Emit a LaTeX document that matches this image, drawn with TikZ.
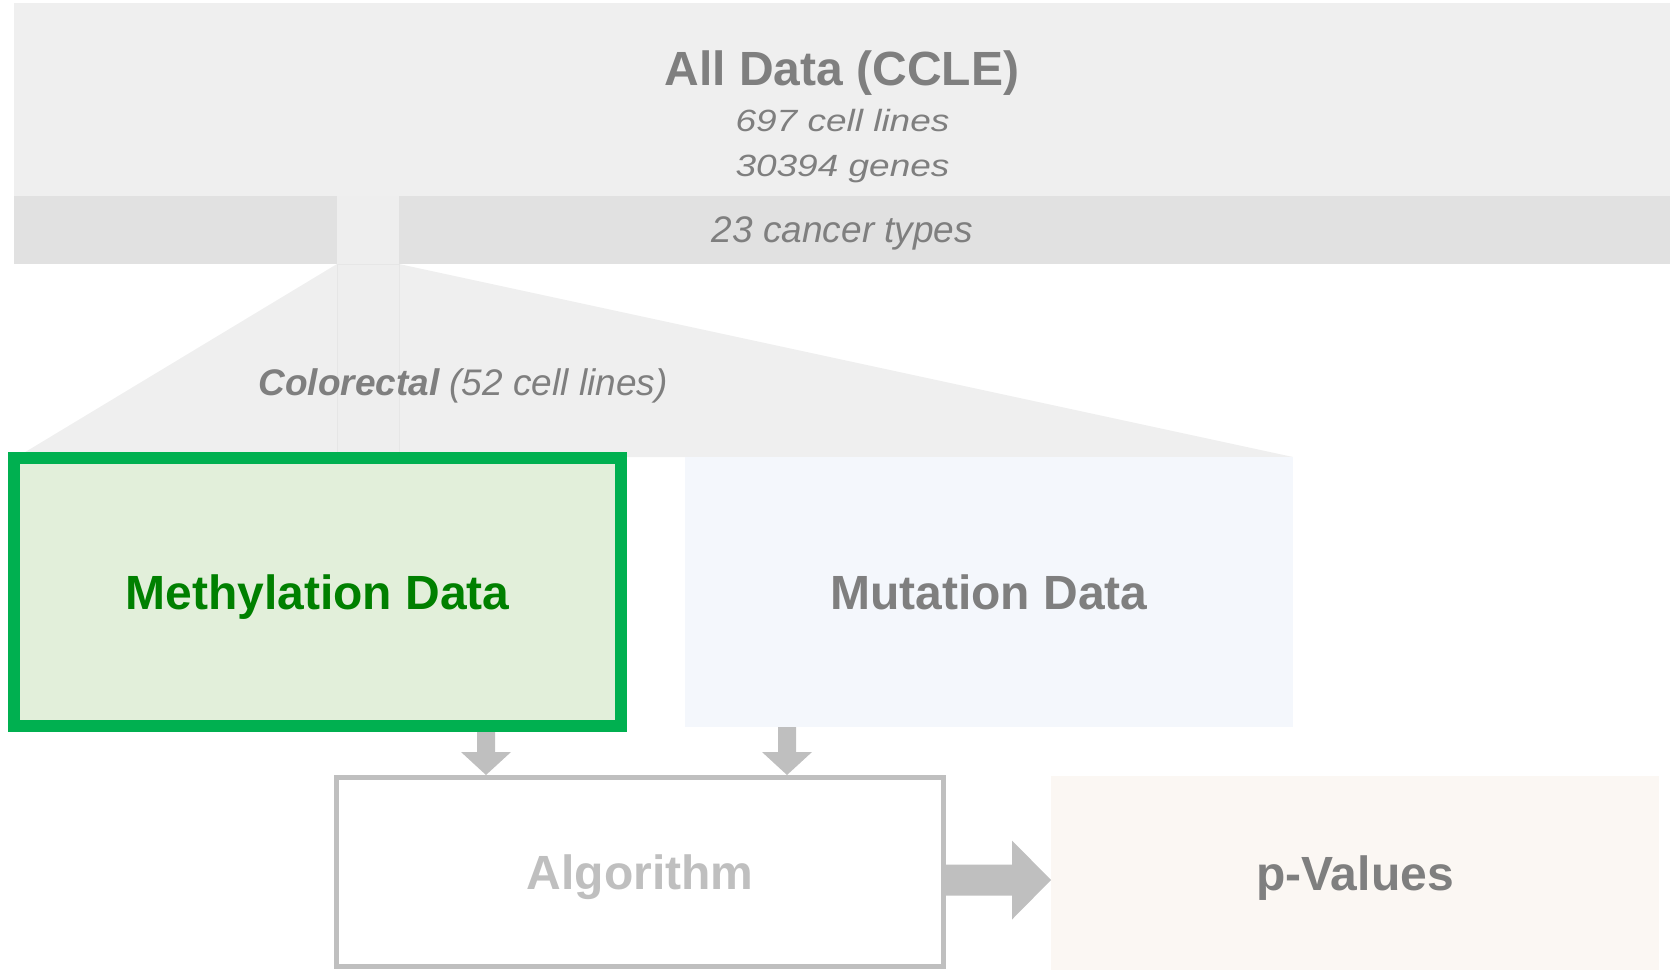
\documentclass[tikz,border=0pt]{standalone}
\usepackage{fontspec}
\setmainfont{Liberation Sans}
\usetikzlibrary{calc}
\definecolor{txtgray}{HTML}{7F7F7F}
\definecolor{topgray}{HTML}{EFEFEF}
\definecolor{bandgray}{HTML}{E1E1E1}
\definecolor{gapgray}{HTML}{EEEEEE}
\definecolor{stripline}{HTML}{E6E6E6}
\definecolor{arrgray}{HTML}{BFBFBF}
\definecolor{methgreen}{HTML}{00B050}
\definecolor{methfill}{HTML}{E2EFDA}
\definecolor{methtext}{HTML}{008000}
\definecolor{mutfill}{HTML}{F4F7FC}
\definecolor{pfill}{HTML}{FBF7F3}
\begin{document}
\begin{tikzpicture}[x=1pt,y=-1pt,
  plainrect/.style={inner sep=0pt, outer sep=0pt, anchor=north west},
  boxlabel/.style={font=\fontsize{48}{58}\selectfont\bfseries, text height=34pt, text depth=0pt, align=center},
  itext/.style={font=\fontsize{37}{44}\selectfont\itshape, text=txtgray, inner sep=0pt, anchor=base},
  arrowfill/.style={fill=arrgray}
]
\useasboundingbox (0,0) rectangle (1673,970);

% top block
\node[plainrect, fill=topgray, minimum width=1656pt, minimum height=193pt] (all) at (14,3) {};
\node[plainrect, fill=bandgray, minimum width=1656pt, minimum height=68pt] (band) at (14,196) {};
\node[plainrect, fill=gapgray, minimum width=62pt, minimum height=68pt] (gap) at (337,196) {};

% funnel
\coordinate (fr) at (1293,457);
\coordinate (fl) at (17,457);
\fill[topgray] (gap.south west) -- (gap.south east) -- (fr) -- (fl) -- cycle;
\node[plainrect, fill=gapgray, draw=stripline, line width=1pt, minimum width=62pt, minimum height=190pt] (strip) at (337,264) {};

% texts of top block
\node[font=\fontsize{48}{58}\selectfont\bfseries, text=txtgray, inner sep=0pt, anchor=base] (title) at (842,85) {All Data (CCLE)};
\node[itext] (lines) at (842.5,131) {\scalebox{1}[0.83]{697 cell lines}};
\node[itext] (genes) at (842.5,176) {\scalebox{1}[0.83]{30394 genes}};
\node[itext] (types) at (842.5,242) {23 cancer types};
\node[itext] (colo) at (463,395) {\textbf{Colorectal} (52 cell lines)};

% data boxes
\node[boxlabel, fill=mutfill, text=txtgray, minimum width=608pt, minimum height=270pt, inner sep=0pt, outer sep=0pt] (mut) at (989,592) {Mutation Data};
\node[boxlabel, fill=methfill, draw=methgreen, line width=12pt, text=methtext, minimum width=607pt, minimum height=268pt] (meth) at (317.5,592) {Methylation Data};
\node[boxlabel, fill=white, draw=arrgray, line width=5pt, text=arrgray, minimum width=607pt, minimum height=189pt] (alg) at (640,872) {Algorithm};
\node[boxlabel, fill=pfill, text=txtgray, minimum width=608pt, minimum height=194pt, inner sep=0pt, outer sep=0pt] (pval) at (1355,873) {p-Values};

% arrows
\coordinate (x1) at (486,0);
\coordinate (x2) at (787,0);
\coordinate (yr) at (0,880);
\path (x1 |- meth.south) coordinate (a1s) (x1 |- alg.north) coordinate (a1e);
\path (x2 |- mut.south) coordinate (a2s) (x2 |- alg.north) coordinate (a2e);
\path (alg.east |- yr) coordinate (a3s) (pval.west |- yr) coordinate (a3e);

\fill[arrowfill] ($(a1s)+(-9,0)$) -- ($(a1s)+(9,0)$) -- ($(a1e)+(9,-23)$) -- ($(a1e)+(25,-23)$) -- (a1e)
  -- ($(a1e)+(-25,-23)$) -- ($(a1e)+(-9,-23)$) -- cycle;
\fill[arrowfill] ($(a2s)+(-9,0)$) -- ($(a2s)+(9,0)$) -- ($(a2e)+(9,-23)$) -- ($(a2e)+(25,-23)$) -- (a2e)
  -- ($(a2e)+(-25,-23)$) -- ($(a2e)+(-9,-23)$) -- cycle;
\fill[arrowfill] ($(a3s)+(0,-15.5)$) -- ($(a3e)+(-39,-15.5)$) -- ($(a3e)+(-39,-39.5)$) -- (a3e)
  -- ($(a3e)+(-39,39.5)$) -- ($(a3e)+(-39,15.5)$) -- ($(a3s)+(0,15.5)$) -- cycle;
\end{tikzpicture}
\end{document}
